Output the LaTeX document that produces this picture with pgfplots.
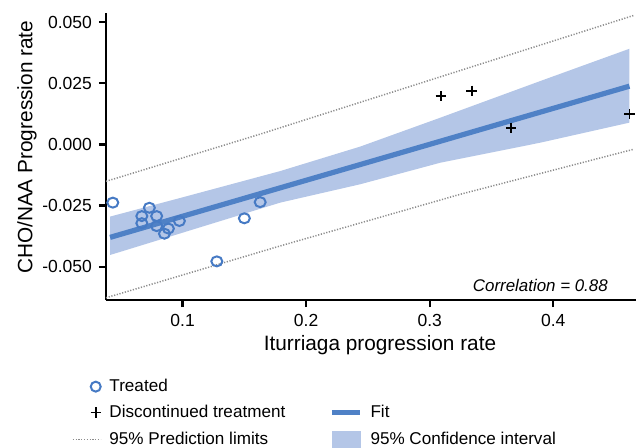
\documentclass[border=0pt]{standalone}
\usepackage{pgfplots}
\pgfplotsset{compat=1.18}
\usepackage{fontspec}
\setmainfont{Liberation Sans}
\setsansfont{Liberation Sans}

\definecolor{fitblue}{RGB}{79,129,198}
\definecolor{ciblue}{RGB}{180,198,231}
\definecolor{circblue}{RGB}{70,122,196}
\definecolor{pigray}{RGB}{140,140,140}

\pgfplotsset{
  markright legend/.style={legend image code/.code={\draw[##1] plot coordinates {(11.5pt,0pt)};}},
  shortline legend/.style={legend image code/.code={\draw[##1] (0pt,0pt) -- (14pt,0pt);}},
  cibox legend/.style={legend image code/.code={\fill[##1] (0pt,-4.5pt) rectangle (14.5pt,4.5pt);}},
}

\begin{document}
\begin{tikzpicture}
\begin{axis}[
  scale only axis, width=265pt, height=143.5pt,
  xmin=0.038, xmax=0.467, ymin=-0.0636, ymax=0.0537,
  axis x line*=bottom, axis y line*=left,
  axis line style={line width=1.4pt, black},
  tick style={line width=1.1pt, black},
  tick align=outside, major tick length=3.5pt,
  xtick={0.1,0.2,0.3,0.4}, ytick={-0.05,-0.025,0,0.025,0.05},
  scaled x ticks=false, scaled y ticks=false,
  xticklabel style={/pgf/number format/.cd, fixed, precision=1},
  yticklabel style={/pgf/number format/.cd, fixed, fixed zerofill, precision=3},
  /pgf/number format/assume math mode=true,
  ticklabel style={font=\fontsize{8.75}{10}\selectfont},
  xlabel={Iturriaga progression rate},
  ylabel={CHO/NAA Progression rate},
  label style={font=\fontsize{10.4}{12}\selectfont},
  xlabel style={at={(axis description cs:0.517,-0.157)}, anchor=center},
  ylabel style={at={(axis description cs:-0.149,0.532)}, anchor=center},
  legend columns=2,
  legend style={at={(axis description cs:-0.0642,-0.274)}, anchor=north west,
    draw=none, fill=none, inner sep=0pt, outer sep=0pt,
    font=\fontsize{8.55}{10}\selectfont,
    nodes={inner sep=0pt, text height=6.2pt, text depth=1.8pt},
    column sep=4pt, row sep=5pt,
    /tikz/every even column/.append style={column sep=22pt},
    cells={anchor=west}},
]
% 95% confidence interval
\addplot[fill=ciblue, draw=none, forget plot] coordinates {
  (0.0413,-0.0295) (0.0980,-0.0219) (0.1790,-0.0109) (0.2437,-0.0009)
  (0.3085,0.0109) (0.3895,0.0259) (0.4617,0.0391)
  (0.4617,0.0089) (0.3895,0.0007) (0.3085,-0.0075) (0.2437,-0.0163)
  (0.1790,-0.0238) (0.0980,-0.0364) (0.0413,-0.0452)
} -- cycle;
% 95% prediction limits
\addplot[pigray, line width=0.75pt, dash pattern=on 0.6pt off 0.8pt, forget plot] coordinates {
  (0.0380,-0.0151) (0.1628,0.0042) (0.3247,0.0302) (0.4650,0.0527)
};
\addplot[pigray, line width=0.75pt, dash pattern=on 0.6pt off 0.8pt, forget plot] coordinates {
  (0.0380,-0.0627) (0.1790,-0.0415) (0.3247,-0.0204) (0.4650,-0.0020)
};
% fit
\addplot[fitblue, line width=2.6pt, forget plot] coordinates {
  (0.0413,-0.0380) (0.4617,0.0238)
};
% treated
\addplot[only marks, mark=o, mark size=2.5pt,
  mark options={draw=circblue, fill=white, line width=1pt, xscale=1.1}, forget plot] coordinates {
  (0.0435,-0.0238) (0.0670,-0.0293) (0.0670,-0.0322) (0.0731,-0.0259)
  (0.0790,-0.0293) (0.0790,-0.0334) (0.0885,-0.0344) (0.0853,-0.0365)
  (0.0974,-0.0313) (0.1277,-0.0478) (0.1500,-0.0302) (0.1628,-0.0236)
};
% discontinued treatment
\addplot[only marks, mark=+, mark size=2.6pt,
  mark options={draw=black, line width=0.85pt}, forget plot] coordinates {
  (0.309,0.0197) (0.334,0.0219) (0.366,0.0068) (0.4617,0.0124)
};
\node[anchor=east, font=\fontsize{8.45}{10}\selectfont\itshape] at (axis description cs:0.960,0.052) {Correlation = 0.88};

\addlegendimage{only marks, mark=o, mark size=2.5pt, mark options={draw=circblue, fill=white, line width=1pt}, markright legend}
\addlegendentry{Treated}
\addlegendimage{empty legend}
\addlegendentry{}
\addlegendimage{only marks, mark=+, mark size=2.6pt, mark options={draw=black, line width=0.85pt}, markright legend}
\addlegendentry{Discontinued treatment}
\addlegendimage{fitblue, line width=2.6pt, shortline legend}
\addlegendentry{Fit}
\addlegendimage{pigray, line width=0.75pt, dash pattern=on 0.6pt off 0.8pt, shortline legend}
\addlegendentry{95\% Prediction limits}
\addlegendimage{fill=ciblue, draw=none, cibox legend}
\addlegendentry{95\% Confidence interval}
\end{axis}
\pgfresetboundingbox
\path[use as bounding box] (-53pt,-73.5pt) rectangle (266pt,150pt);
\end{tikzpicture}
\end{document}
